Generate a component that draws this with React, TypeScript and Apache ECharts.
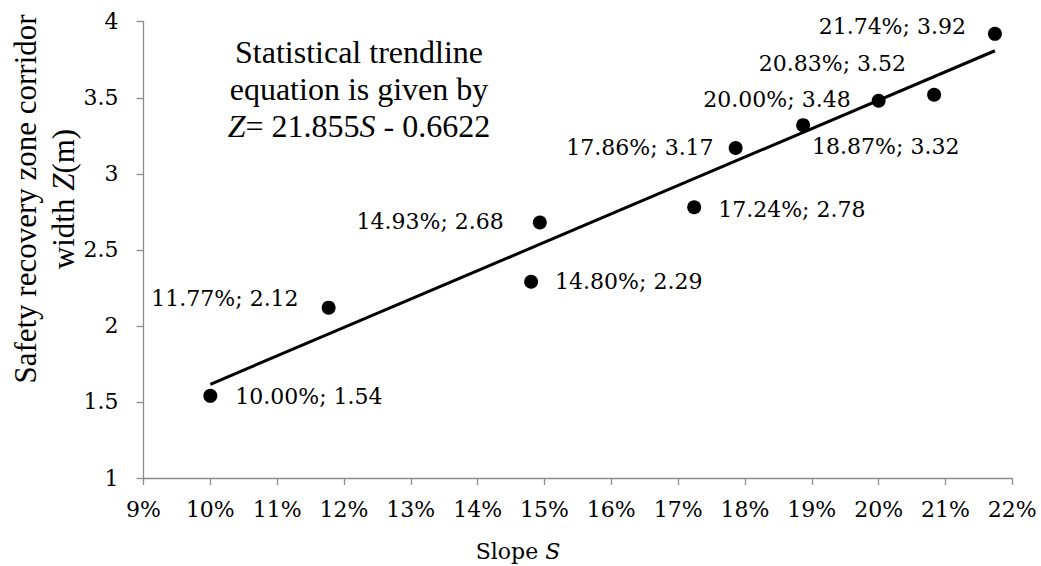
import React, { useEffect, useRef } from "react";
import * as echarts from "echarts";

// Data
const slopes = [10.0, 11.77, 14.8, 14.93, 17.24, 17.86, 18.87, 20.0, 20.83, 21.74];
const widths = [1.54, 2.12, 2.29, 2.68, 2.78, 3.17, 3.32, 3.48, 3.52, 3.92];
const trendSlopes = [10.0, 21.74];
const trendWidths = [1.616, 3.809];
const xMin = 9;
const xMax = 22;
const yMin = 1;
const yMax = 4;

// Label placement (layout only)
const labelPlacements = [
  { side: "right", dist: 18, dy: 1 },
  { side: "left", dist: 23, dy: -9 },
  { side: "right", dist: 17, dy: 0 },
  { side: "left", dist: 29, dy: -1 },
  { side: "right", dist: 17, dy: 2 },
  { side: "left", dist: 15, dy: 0 },
  { side: "right", dist: 2, dy: 21 },
  { side: "left", dist: 21, dy: -1 },
  { side: "left", dist: 21, dy: -31 },
  { side: "left", dist: 22, dy: -7 },
];

const CAMBRIA = "'DejaVu Serif', serif";
const TIMES = "'Liberation Serif', 'Times New Roman', serif";
const AXIS_GREY = "#8c8c8c";

export default function App() {
  const ref = useRef<HTMLDivElement>(null);

  useEffect(() => {
    if (!ref.current) return;
    const chart = echarts.init(ref.current, undefined, { renderer: "svg" });

    const points = slopes.map((s, i) => {
      const pl = labelPlacements[i];
      return {
        value: [s, widths[i]],
        label: {
          show: true,
          position: pl.side,
          distance: pl.dist,
          offset: [0, pl.dy],
        },
      };
    });

    const option: any = {
      animation: false,
      backgroundColor: "#ffffff",
      grid: { left: 143.5, right: 28.7, top: 21.7, bottom: 88 },
      xAxis: {
        type: "value",
        min: xMin,
        max: xMax,
        interval: 1,
        splitLine: { show: false },
        axisLine: { show: true, lineStyle: { color: AXIS_GREY, width: 1.3 } },
        axisTick: { show: true, length: 7, lineStyle: { color: AXIS_GREY, width: 1.3 } },
        axisLabel: {
          color: "#000",
          fontFamily: CAMBRIA,
          fontSize: 22,
          margin: 20,
          formatter: (v: number) => `${v}%`,
        },
      },
      yAxis: {
        type: "value",
        min: yMin,
        max: yMax,
        interval: 0.5,
        splitLine: { show: false },
        axisLine: { show: true, lineStyle: { color: AXIS_GREY, width: 1.3 } },
        axisTick: { show: true, length: 7, lineStyle: { color: AXIS_GREY, width: 1.3 } },
        axisLabel: {
          color: "#000",
          fontFamily: CAMBRIA,
          fontSize: 22,
          margin: 25,
          formatter: (v: number) => `${v}`,
        },
      },
      series: [
        {
          type: "line",
          data: trendSlopes.map((s, i) => [s, trendWidths[i]]),
          symbol: "none",
          lineStyle: { color: "#000", width: 3, opacity: 1 },
          silent: true,
          z: 2,
        },
        {
          type: "scatter",
          data: points,
          symbol: "circle",
          symbolSize: 14,
          itemStyle: { color: "#000", opacity: 1 },
          z: 3,
          label: {
            show: true,
            color: "#000",
            opacity: 1,
            fontFamily: CAMBRIA,
            fontSize: 22,
            formatter: (p: any) =>
              `${p.value[0].toFixed(2)}%; ${p.value[1].toFixed(2)}`,
          },
        },
      ],
      graphic: [
        {
          type: "text",
          x: 359,
          y: 52,
          style: {
            text: "Statistical trendline",
            fontFamily: TIMES,
            fontSize: 32,
            fill: "#000",
            align: "center",
            verticalAlign: "middle",
          },
        },
        {
          type: "text",
          x: 359,
          y: 89,
          style: {
            text: "equation is given by",
            fontFamily: TIMES,
            fontSize: 32,
            fill: "#000",
            align: "center",
            verticalAlign: "middle",
          },
        },
        {
          type: "text",
          x: 359,
          y: 126,
          style: {
            text: "{i|Z}= 21.855{i|S} - 0.6622",
            fontFamily: TIMES,
            fontSize: 32,
            fill: "#000",
            align: "center",
            verticalAlign: "middle",
            rich: {
              i: { fontFamily: TIMES, fontSize: 32, fontStyle: "italic", fill: "#000" },
            },
          },
        },
        {
          type: "text",
          x: 44,
          y: 199,
          rotation: Math.PI / 2,
          style: {
            text: "Safety recovery zone corridor\nwidth {i|Z}(m)",
            fontFamily: TIMES,
            fontSize: 31,
            lineHeight: 38,
            fill: "#000",
            align: "center",
            verticalAlign: "middle",
            rich: {
              i: {
                fontFamily: TIMES,
                fontSize: 31,
                lineHeight: 38,
                fontStyle: "italic",
                fill: "#000",
              },
            },
          },
        },
        {
          type: "text",
          x: 518,
          y: 551,
          style: {
            text: "Slope {i|S}",
            fontFamily: CAMBRIA,
            fontSize: 22,
            fill: "#000",
            align: "center",
            verticalAlign: "middle",
            rich: {
              i: { fontFamily: CAMBRIA, fontSize: 22, fontStyle: "italic", fill: "#000" },
            },
          },
        },
      ],
    };

    chart.setOption(option);
    return () => chart.dispose();
  }, []);

  return (
    <div
      ref={ref}
      style={{ position: "fixed", left: 0, top: 0, width: 1041, height: 566 }}
    />
  );
}
